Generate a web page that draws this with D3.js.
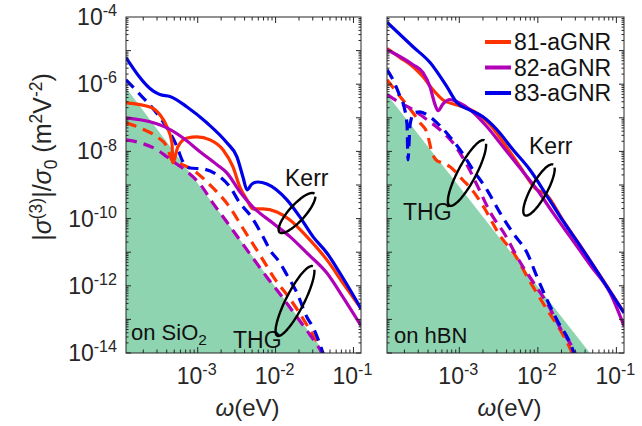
<!DOCTYPE html>
<html>
<head>
<meta charset="utf-8">
<script src="https://cdn.jsdelivr.net/npm/d3@7"></script>
<style>
  body { margin: 0; background: #fff; }
  svg { display: block; font-family: Arial, 'Liberation Sans', sans-serif; }
</style>
</head>
<body>
<svg width="642" height="426"></svg>
<script>
// axis ranges and ticks
const xDomain = [1.2e-4, 0.125]
const yDomain = [1e-14, 1e-4]
const xTickValues = [1e-3, 1e-2, 1e-1]
const yTickValues = [1e-14, 1e-12, 1e-10, 1e-8, 1e-6, 1e-4]

const seriesNames = ['81-aGNR', '82-aGNR', '83-aGNR']
const seriesColors = ['#ff3300', '#b000b8', '#0000e8']

// ---- on SiO2 : Kerr (solid) ----
const kerrSiO2_81 = [[1.2e-4,2.8e-7],[2.44e-4,2.1e-7],[3.27e-4,1.23e-7],[4.03e-4,5.4e-8],[4.67e-4,1.8e-8],[4.8e-4,4.6e-9],[5.57e-4,1.38e-8],[7.3e-4,2.5e-8],[9.8e-4,2.7e-8],[1.44e-3,2.2e-8],[2.11e-3,1.12e-8],[2.83e-3,3.5e-9],[3.48e-3,8.7e-10],[4.29e-3,3.6e-10],[5.12e-3,1.95e-10],[6.88e-3,1.95e-10],[1.04e-2,1.58e-10],[1.53e-2,9.1e-11],[2.52e-2,2.9e-11],[4.56e-2,5.9e-12],[7.3e-2,1.23e-12],[0.125,2.1e-13]]
const kerrSiO2_82 = [[1.2e-4,1.0e-7],[2.44e-4,7.6e-8],[4.03e-4,5.0e-8],[6.5e-4,2.5e-8],[1.07e-3,9.8e-9],[1.77e-3,4.0e-9],[2.37e-3,2.3e-9],[3.48e-3,6.3e-10],[5.12e-3,2.2e-10],[9.2e-3,7.4e-11],[1.53e-2,2.9e-11],[2.52e-2,9.5e-12],[4.56e-2,2.4e-12],[7.3e-2,4.7e-13],[0.125,6.5e-14]]
const kerrSiO2_83 = [[1.2e-4,6.2e-6],[2.67e-4,6.3e-7],[3.27e-4,4.9e-7],[4.4e-4,4.3e-7],[7.3e-4,2.1e-7],[1.31e-3,7.1e-8],[2.37e-3,1.8e-8],[3.19e-3,6.9e-9],[3.81e-3,1.74e-9],[4.29e-3,7.2e-10],[4.97e-3,1.07e-9],[5.93e-3,1.23e-9],[7.74e-3,1.07e-9],[1.4e-2,3.6e-10],[2.05e-2,1.12e-10],[3.02e-2,2.9e-11],[4.56e-2,9.5e-12],[6.7e-2,2.4e-12],[0.125,2.1e-13]]
// ---- on SiO2 : THG (dashed) ----
const thgSiO2_81 = [[1.2e-4,7.1e-8],[1.82e-4,5.0e-8],[3.0e-4,2.7e-8],[4.03e-4,1.38e-8],[4.8e-4,4.9e-9],[5.9e-4,4.3e-9],[8.7e-4,2.8e-9],[1.44e-3,1.0e-9],[2.44e-3,2.6e-10],[4.05e-3,4.1e-11],[6.3e-3,8.3e-12],[9.8e-3,1.58e-12],[1.53e-2,4.1e-13],[2.38e-2,8.5e-14],[3.94e-2,1e-14],[5e-2,2e-15]]
const thgSiO2_82 = [[1.2e-4,2.2e-8],[1.82e-4,1.8e-8],[3.0e-4,1.12e-8],[4.03e-4,6.9e-9],[5.1e-4,4.6e-9],[7.3e-4,2.5e-9],[1.07e-3,1.07e-9],[1.57e-3,2.9e-10],[2.37e-3,7.9e-11],[3.48e-3,2.3e-11],[5.12e-3,6.7e-12],[7.74e-3,1.8e-12],[1.24e-2,4.4e-13],[1.88e-2,1.18e-13],[2.76e-2,3.5e-14],[3.94e-2,1e-14],[5e-2,3e-15]]
const thgSiO2_83 = [[1.2e-4,1.35e-6],[1.82e-4,4.9e-7],[3.09e-4,1.23e-7],[4.03e-4,5.0e-8],[5.42e-4,1.38e-8],[6.28e-4,5.6e-9],[7.96e-4,3.2e-9],[1.17e-3,3.0e-9],[1.93e-3,1.74e-9],[2.6e-3,8.7e-10],[3.48e-3,2.9e-10],[4.69e-3,1.29e-10],[6.9e-3,2.9e-11],[8.45e-3,1.18e-11],[1.14e-2,4.8e-12],[1.4e-2,2.1e-12],[1.88e-2,6.2e-13],[2.52e-2,1.18e-13],[3.0e-2,6.0e-14],[4.06e-2,1e-14],[5e-2,2e-15]]

// ---- on hBN : Kerr (solid) ----
const kerrHBN_81 = [[1.2e-4,1.15e-5],[1.76e-4,6.2e-6],[2.57e-4,3.3e-6],[3.45e-4,1.66e-6],[4.62e-4,6.8e-7],[6.2e-4,3.4e-7],[9.35e-4,2.4e-7],[1.5e-3,1.62e-7],[2.46e-3,6.2e-8],[3.82e-3,1.58e-8],[5.93e-3,3.5e-9],[9.2e-3,8.1e-10],[1.31e-2,4.9e-10],[2.09e-2,8.9e-11],[3.45e-2,1.6e-11],[6.2e-2,2.0e-12],[0.125,1.6e-13]]
const kerrHBN_82 = [[1.2e-4,1.06e-5],[1.76e-4,6.6e-6],[2.57e-4,3.8e-6],[3.45e-4,2.2e-6],[4.24e-4,8.3e-7],[4.9e-4,2.5e-7],[5.36e-4,1.62e-7],[6.2e-4,2.6e-7],[7.6e-4,3.5e-7],[9.35e-4,3.0e-7],[1.37e-3,1.74e-7],[2.25e-3,5.4e-8],[3.6e-3,1.38e-8],[5.93e-3,3.2e-9],[9.8e-3,7.2e-10],[1.56e-2,1.48e-10],[2.57e-2,2.9e-11],[4.62e-2,4.2e-12],[8.3e-2,6.2e-13],[0.125,6.4e-14]]
const kerrHBN_83 = [[1.2e-4,7.0e-5],[2.57e-4,1.3e-5],[4.24e-4,4.4e-6],[6.97e-4,8.3e-7],[9.35e-4,2.8e-7],[1.37e-3,1.7e-7],[2.0e-3,1.07e-7],[3.02e-3,4.4e-8],[4.83e-3,1.12e-8],[7.96e-3,2.8e-9],[1.31e-2,4.7e-10],[2.09e-2,8.5e-11],[3.45e-2,1.55e-11],[6.2e-2,1.95e-12],[0.125,1.55e-13]]
// ---- on hBN : THG (dashed) ----
const thgHBN_81 = [[1.2e-4,1.35e-6],[1.76e-4,4.3e-7],[2.57e-4,1.41e-7],[3.16e-4,7.1e-8],[3.88e-4,3.6e-8],[4.5e-4,9.1e-9],[5.04e-4,5.6e-9],[6.0e-4,4.6e-9],[7.6e-4,3.5e-9],[1.11e-3,1.41e-9],[1.45e-3,7.2e-10],[2.07e-3,2.1e-10],[3.3e-3,3.1e-11],[5.1e-3,8.3e-12],[7.96e-3,1.32e-12],[1.31e-2,1.95e-13],[1.92e-2,4.9e-14],[2.73e-2,1e-14],[3.5e-2,2e-15]]
const thgHBN_82 = [[1.2e-4,4.9e-7],[1.76e-4,2.8e-7],[2.57e-4,1.74e-7],[3.45e-4,1.07e-7],[5.68e-4,4.4e-8],[8.3e-4,1.8e-8],[1.25e-3,4.0e-9],[1.68e-3,1.0e-9],[2.46e-3,1.58e-10],[3.82e-3,3.3e-11],[5.93e-3,5.1e-12],[9.2e-3,1.07e-12],[1.35e-2,2.7e-13],[1.92e-2,5.6e-14],[2.98e-2,1e-14],[3.8e-2,2e-15]]
const thgHBN_83 = [[1.2e-4,2.7e-6],[1.43e-4,1.35e-6],[1.76e-4,4.3e-7],[1.98e-4,2.1e-7],[2.16e-4,6.2e-8],[2.22e-4,5.6e-9],[2.36e-4,6.2e-8],[2.65e-4,1.41e-7],[3.16e-4,1.5e-7],[3.88e-4,1.23e-7],[5.2e-4,7.1e-8],[7.6e-4,2.7e-8],[1.02e-3,1.12e-8],[1.5e-3,2.8e-9],[2.25e-3,7.2e-10],[3.3e-3,1.48e-10],[4.83e-3,3.7e-11],[7.3e-3,9.5e-12],[9.8e-3,1.8e-12],[1.31e-2,3.8e-13],[1.76e-2,9.5e-14],[2.8e-2,1.2e-14],[3.5e-2,2e-15]]

// shaded region edge (top-left corner, bottom crossing)
const shadeSiO2 = [[1.2e-4,7.9e-7],[4.3e-2,1e-14]]
const shadeHBN = [[1.2e-4,4.9e-7],[4.6e-2,1e-14]]

const svg = d3.select('svg')
const plotTop = 17, plotBottom = 353
const axisColor = '#262626'

const panels = [
  {id: 'sio2', left: 126, right: 361, kerr: [kerrSiO2_81, kerrSiO2_82, kerrSiO2_83], thg: [thgSiO2_81, thgSiO2_82, thgSiO2_83], shade: shadeSiO2,
   label: [{t: 'on SiO'}, {t: '2', s: 'sub'}], labelPos: [131, 340],
   rings: [{cx: 297, cy: 213, a: 26, b: 8, rot: -48}, {cx: 295, cy: 301, a: 39, b: 9, rot: -63}],
   notes: [{t: 'Kerr', x: 285, y: 186}, {t: 'THG', x: 233, y: 348}]},
  {id: 'hbn', left: 387, right: 624, kerr: [kerrHBN_81, kerrHBN_82, kerrHBN_83], thg: [thgHBN_81, thgHBN_82, thgHBN_83], shade: shadeHBN,
   label: [{t: 'on hBN'}], labelPos: [394, 343],
   rings: [{cx: 467, cy: 173, a: 37, b: 9, rot: -62}, {cx: 539, cy: 190, a: 29, b: 8, rot: -61}],
   notes: [{t: 'Kerr', x: 529, y: 154}, {t: 'THG', x: 403, y: 220}],
   legend: true}
]

// writes text with super/subscripts as tspans
function richText(sel, parts, size) {
  let shift = 0
  parts.forEach(p => {
    const target = p.s === 'sup' ? -0.38 * size : p.s === 'sub' ? 0.22 * size : 0
    const ts = sel.append('tspan').text(p.t).attr('dy', target - shift)
    shift = target
    if (p.s) ts.attr('font-size', size * 0.7)
    if (p.i) ts.attr('font-style', 'italic')
  })
}

panels.forEach(p => drawPanel(p))

function drawPanel(p) {
  const x = d3.scaleLog().domain(xDomain).range([p.left, p.right])
  const y = d3.scaleLog().domain(yDomain).range([plotBottom, plotTop])
  const g = svg.append('g')

  g.append('clipPath').attr('id', 'clip-' + p.id)
    .append('rect').attr('x', p.left).attr('y', plotTop).attr('width', p.right - p.left).attr('height', plotBottom - plotTop)

  const plot = g.append('g').attr('clip-path', 'url(#clip-' + p.id + ')')

  // green region under the bound
  const shadePts = [p.shade[0], p.shade[1], [xDomain[0], yDomain[0]]]
  plot.append('path')
    .attr('d', d3.line().x(d => x(d[0])).y(d => y(d[1]))(shadePts) + 'Z')
    .attr('fill', '#8fd4b0')

  const line = d3.line().x(d => x(d[0])).y(d => y(d[1])).curve(d3.curveMonotoneX)

  p.thg.forEach((data, i) => {
    plot.append('path').attr('d', line(data))
      .attr('fill', 'none').attr('stroke', seriesColors[i]).attr('stroke-width', 3.2)
      .attr('stroke-dasharray', '11,7')
  })
  p.kerr.forEach((data, i) => {
    plot.append('path').attr('d', line(data))
      .attr('fill', 'none').attr('stroke', seriesColors[i]).attr('stroke-width', 3.2)
  })

  // box + ticks (inward, all four sides)
  g.append('rect').attr('x', p.left).attr('y', plotTop).attr('width', p.right - p.left).attr('height', plotBottom - plotTop)
    .attr('fill', 'none').attr('stroke', axisColor).attr('stroke-width', 1)

  const xMinor = []
  for (let e = -4; e <= -1; e++) for (let m = 1; m <= 9; m++) {
    const v = m * Math.pow(10, e)
    if (v >= xDomain[0] && v <= xDomain[1]) xMinor.push({v, major: m === 1})
  }
  xMinor.forEach(t => {
    const len = t.major ? 6 : 3.5
    g.append('line').attr('x1', x(t.v)).attr('x2', x(t.v)).attr('y1', plotBottom).attr('y2', plotBottom - len).attr('stroke', axisColor)
    g.append('line').attr('x1', x(t.v)).attr('x2', x(t.v)).attr('y1', plotTop).attr('y2', plotTop + len).attr('stroke', axisColor)
  })
  const yMinor = []
  for (let e = -14; e <= -5; e++) for (let m = 1; m <= 9; m++) yMinor.push({v: m * Math.pow(10, e), major: m === 1})
  yMinor.forEach(t => {
    const len = t.major ? 5 : 2.5
    g.append('line').attr('y1', y(t.v)).attr('y2', y(t.v)).attr('x1', p.left).attr('x2', p.left + len).attr('stroke', axisColor)
    g.append('line').attr('y1', y(t.v)).attr('y2', y(t.v)).attr('x1', p.right).attr('x2', p.right - len).attr('stroke', axisColor)
  })

  xTickValues.forEach(v => {
    const t = g.append('text').attr('x', x(v) - 1).attr('y', 384).attr('text-anchor', 'middle')
      .attr('font-size', 23).attr('fill', axisColor)
    richText(t, [{t: '10'}, {t: String(Math.round(Math.log10(v))), s: 'sup'}], 23)
  })
  if (p.id === 'sio2') {
    yTickValues.forEach(v => {
      const t = g.append('text').attr('x', p.left - 9).attr('y', y(v) + 8).attr('text-anchor', 'end')
        .attr('font-size', 23).attr('fill', axisColor)
      richText(t, [{t: '10'}, {t: String(Math.round(Math.log10(v))), s: 'sup'}], 23)
    })
  }

  const xt = g.append('text').attr('x', (p.left + p.right) / 2 + 4).attr('y', 416).attr('text-anchor', 'middle')
    .attr('font-size', 24).attr('fill', axisColor)
  richText(xt, [{t: 'ω', i: true}, {t: '(eV)'}], 24)

  const lab = g.append('text').attr('x', p.labelPos[0]).attr('y', p.labelPos[1]).attr('font-size', 22).attr('fill', '#111')
  richText(lab, p.label, 22)

  p.notes.forEach(n => {
    g.append('text').attr('x', n.x).attr('y', n.y).attr('font-size', 23).attr('fill', '#111').text(n.t)
  })

  // the loops that group Kerr / THG curves
  p.rings.forEach(r => {
    const pts = d3.range(0.35, 2 * Math.PI + 0.05, 0.05).map(a => [r.a * Math.cos(a), r.b * Math.sin(a)])
    g.append('path')
      .attr('transform', `translate(${r.cx},${r.cy}) rotate(${r.rot})`)
      .attr('d', d3.line().curve(d3.curveBasis)(pts))
      .attr('fill', 'none').attr('stroke', '#000').attr('stroke-width', 2.4)
  })

  if (p.legend) {
    const lg = g.append('g')
    seriesNames.forEach((name, i) => {
      const ly = 42 + i * 25.5
      lg.append('line').attr('x1', 485).attr('x2', 511).attr('y1', ly).attr('y2', ly)
        .attr('stroke', seriesColors[i]).attr('stroke-width', 4)
      lg.append('text').attr('x', 514).attr('y', ly + 8).attr('font-size', 23).attr('fill', '#111').text(name)
    })
  }
}

// y axis title
const yt = svg.append('text').attr('transform', 'translate(51,157) rotate(-90)').attr('text-anchor', 'middle')
  .attr('font-size', 25).attr('fill', axisColor)
richText(yt, [{t: '|'}, {t: 'σ', i: true}, {t: '(3)', s: 'sup'}, {t: '|/'}, {t: 'σ', i: true}, {t: '0', s: 'sub'},
  {t: ' (m'}, {t: '2', s: 'sup'}, {t: 'V'}, {t: '-2', s: 'sup'}, {t: ')'}], 25)
</script>
</body>
</html>
